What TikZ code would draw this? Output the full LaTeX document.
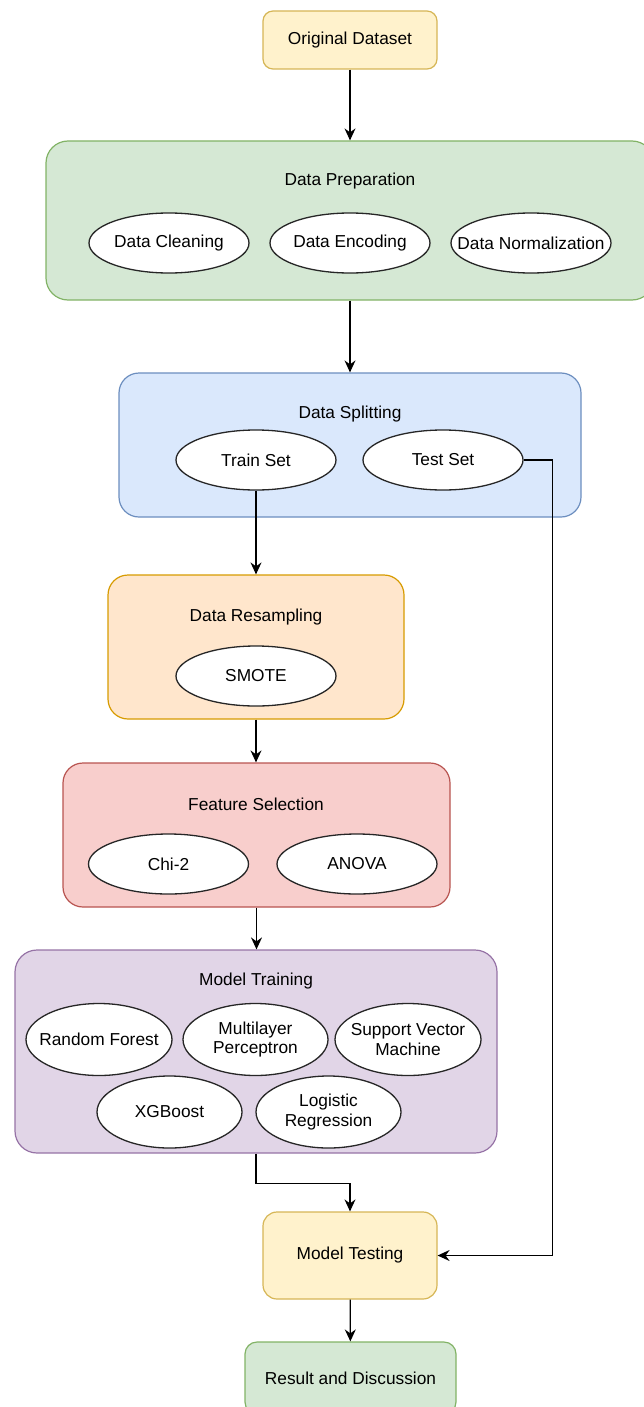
\documentclass[tikz,border=0pt]{standalone}
\usepackage{fontspec}
\setmainfont{Liberation Sans}
\usetikzlibrary{arrows.meta,shapes.geometric}
\definecolor{yfill}{HTML}{FFF2CC}\definecolor{ydraw}{HTML}{D6B656}
\definecolor{gfill}{HTML}{D5E8D4}\definecolor{gdraw}{HTML}{82B366}
\definecolor{bfill}{HTML}{DAE8FC}\definecolor{bdraw}{HTML}{6C8EBF}
\definecolor{ofill}{HTML}{FFE6CC}\definecolor{odraw}{HTML}{D79B00}
\definecolor{rfill}{HTML}{F8CECC}\definecolor{rdraw}{HTML}{B85450}
\definecolor{pfill}{HTML}{E1D5E7}\definecolor{pdraw}{HTML}{9673A6}
\begin{document}
\begin{tikzpicture}[x=1pt,y=-1pt,font=\fontsize{17.3}{19.5}\selectfont,
  blk/.style 2 args={draw=#1,fill=#2,rounded corners=10pt,line width=1.2pt,align=center,inner sep=0pt},
  oval/.style={ellipse,draw=black!85,fill=white,line width=1.3pt,minimum width=160pt,minimum height=60pt,
    inner xsep=-20pt,inner ysep=0pt,align=center},
  arr/.style={-{Stealth[length=12pt,width=11pt,inset=4pt]},line width=1.3pt}]
\useasboundingbox (0,0) rectangle (644,1407);
\node[blk={ydraw}{yfill},minimum width=174pt,minimum height=58pt] (orig) at (350,40) {Original Dataset};
\node[blk={gdraw}{gfill},minimum width=608pt,minimum height=159pt,rounded corners=22pt] (prep) at (350,220.5) {};
\node (preptitle) at (350,181) {Data Preparation};
\node[oval] (clean) at (169,243) {Data Cleaning};
\node[oval] (encode) at (350,243) {Data Encoding};
\node[oval] (norm) at (531,243) {Data Normalization};
\node[blk={bdraw}{bfill},minimum width=462pt,minimum height=144pt,rounded corners=20pt] (split) at (350,445) {};
\node (splittitle) at (350,414) {Data Splitting};
\node[oval] (train) at (256,460) {Train Set};
\node[oval] (test) at (443,460) {Test Set};
\node[blk={odraw}{ofill},minimum width=296pt,minimum height=144pt,rounded corners=20pt] (resamp) at (256,647) {};
\node (resamptitle) at (256,617) {Data Resampling};
\node[oval] (smote) at (256,676) {SMOTE};
\node[blk={rdraw}{rfill},minimum width=387pt,minimum height=144pt,rounded corners=20pt] (feat) at (256.5,835) {};
\node (feattitle) at (256,804) {Feature Selection};
\node[oval] (chi) at (168.5,864) {Chi-2};
\node[oval] (anova) at (357,864) {ANOVA};
\node[blk={pdraw}{pfill},minimum width=482pt,minimum height=203pt,rounded corners=22pt] (model) at (256,1051.5) {};
\node (modeltitle) at (256,981) {Model Training};
\node[oval,minimum width=146pt,minimum height=72pt] (rf) at (99,1039.5) {Random Forest};
\node[oval,minimum width=145pt,minimum height=72pt] (mlp) at (255.5,1039.5) {Multilayer\\Perceptron};
\node[oval,minimum width=146pt,minimum height=72pt] (svm) at (408,1039.5) {Support Vector\\Machine};
\node[oval,minimum width=145pt,minimum height=72pt] (xgb) at (169.5,1112) {XGBoost};
\node[oval,minimum width=145pt,minimum height=72pt] (lr) at (328.5,1112) {Logistic\\Regression};
\node[blk={ydraw}{yfill},minimum width=174pt,minimum height=87pt,rounded corners=14pt] (testing) at (350,1255.5) {Model Testing};
\node[blk={gdraw}{gfill},minimum width=211pt,minimum height=72pt,rounded corners=12pt] (result) at (350.5,1378) {Result and Discussion};
\draw[arr] (orig) -- (prep);
\draw[arr] (prep) -- (split);
\draw[arr] (train) -- (train |- resamp.north);
\draw[arr] (resamp.south) -- (resamp.south |- feat.north);
\draw[arr] (feat.south) -- (feat.south |- model.north);
\draw[arr] (model.south) -- ++(0,30) -| (testing.north);
\draw[arr] (test.east) -- ++(29,0) |- (testing.east);
\draw[arr] (testing) -- (result);
\end{tikzpicture}
\end{document}
